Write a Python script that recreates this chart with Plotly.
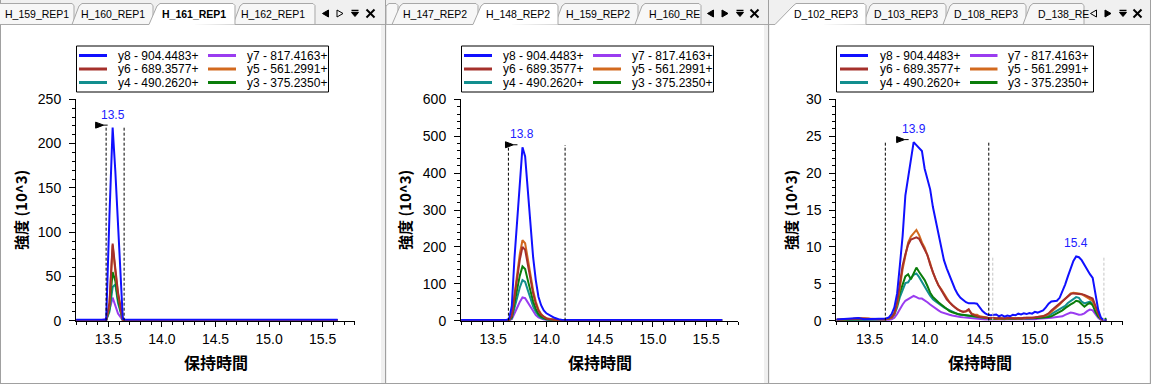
import plotly.graph_objects as go

W, H = 1151, 384
FONT = "Liberation Sans, Arial, sans-serif"
TABFONT = "Liberation Sans, Arial, sans-serif"
CJK = "Noto Sans CJK JP, Noto Sans CJK SC, sans-serif"

# ---------------- data ----------------
series_keys = ["y8", "y7", "y6", "y5", "y4", "y3"]
series_labels = ["y8 - 904.4483+", "y7 - 817.4163+", "y6 - 689.3577+",
                 "y5 - 561.2991+", "y4 - 490.2620+", "y3 - 375.2350+"]
series_colors = ["#1010ff", "#9a3cf0", "#a5302b", "#d2691e", "#128e8e", "#0a7d0a"]
draw_order = ["y7", "y4", "y3", "y5", "y6", "y8"]

# Panel 1 : H_161_REP1
p1_time = [13.2, 13.43, 13.48, 13.51, 13.54, 13.565, 13.59, 13.635, 13.66, 15.64]
p1_y8 = [1.0, 1.0, 1.2, 118, 218, 169, 112, 2.0, 1.0, 1.0]
p1_y7 = [0.3, 0.6, 2.0, 12, 26, 16, 8, 0.5, 0.2, 0.2]
p1_y6 = [0.5, 0.5, 0.8, 20, 87, 59, 32, 0.8, 0.5, 0.5]
p1_y5 = [0.4, 0.4, 0.6, 17, 85, 56, 30, 0.6, 0.4, 0.4]
p1_y4 = [0.3, 0.3, 0.5, 10, 38, 41, 20, 0.5, 0.3, 0.3]
p1_y3 = [0.3, 0.3, 0.5, 14, 55, 45, 24, 0.5, 0.3, 0.3]

# Panel 2 : H_148_REP2
p2_time = [13.2, 13.6, 13.625, 13.65, 13.675, 13.7, 13.725, 13.75, 13.775, 13.8,
           13.825, 13.85, 13.875, 13.9, 13.925, 13.95, 13.975, 14.0, 14.025, 14.05,
           14.075, 14.1, 14.125, 14.15, 15.65]
p2_y8 = [2, 2, 2, 5, 40, 170, 280, 390, 470, 445, 352, 262, 172, 110, 65, 42, 28, 20, 15, 12, 8, 5, 3, 2, 2]
p2_y7 = [0, 0, 0, 1, 4, 18, 35, 51, 63, 61, 49, 36, 24, 15, 9, 5, 3, 2, 1, 1, 0, 0, 0, 0, 0]
p2_y6 = [1, 1, 1, 2, 13, 62, 112, 165, 200, 192, 153, 113, 74, 46, 27, 16, 10, 6, 4, 3, 2, 1, 1, 1, 1]
p2_y5 = [1, 1, 1, 2, 15, 70, 125, 180, 218, 210, 168, 125, 82, 52, 30, 18, 11, 7, 5, 3, 2, 1, 1, 1, 1]
p2_y4 = [1, 1, 1, 1, 7, 35, 62, 90, 110, 105, 83, 60, 39, 24, 14, 8, 5, 3, 2, 1, 1, 1, 1, 0, 0]
p2_y3 = [1, 1, 1, 1, 10, 48, 85, 122, 147, 140, 110, 80, 52, 32, 18, 11, 7, 4, 3, 2, 1, 1, 1, 1, 1]

# Panel 3 : D_102_REP3
p3_time = [13.2, 13.25, 13.3, 13.35, 13.4, 13.45, 13.5, 13.55, 13.575,
           13.6, 13.625, 13.65, 13.675, 13.7, 13.725, 13.75, 13.775, 13.8, 13.825,
           13.85, 13.875, 13.9, 13.925, 13.95, 13.975, 14.0, 14.025, 14.05, 14.075,
           14.1, 14.125, 14.15, 14.175, 14.2, 14.225, 14.25, 14.275, 14.3, 14.325,
           14.35, 14.375, 14.4, 14.425, 14.45, 14.475, 14.5, 14.525, 14.55, 14.575,
           14.6, 14.625, 14.65, 14.675, 14.7, 14.725, 14.75, 14.775, 14.8, 14.825,
           14.85, 14.875, 14.9, 14.925, 14.95, 14.975, 15.0, 15.025, 15.05, 15.075,
           15.1, 15.125, 15.15, 15.175, 15.2, 15.225, 15.25, 15.275, 15.3, 15.325,
           15.35, 15.375, 15.4, 15.425, 15.45, 15.475, 15.5, 15.525, 15.55, 15.575,
           15.6, 15.625, 15.65]
p3_y8 = [0.15, 0.2, 0.15, 0.25, 0.35, 0.2, 0.2, 0.25, 0.2,
         0.2, 0.25, 0.3, 0.45, 0.9, 1.8, 3.7, 7.5, 11.5, 17.0,
         19.6, 21.5, 24.2, 23.8, 23.4, 23.0, 20.6, 19.2, 17.8, 15.4,
         13.5, 11.8, 9.8, 8.2, 7.1, 6.1, 5.1, 4.3, 3.6, 3.1,
         2.8, 2.5, 2.35, 2.4, 2.35, 2.3, 1.8, 1.3, 1.0, 0.8,
         0.75, 0.8, 0.85, 0.6, 0.75, 0.55, 0.7, 0.6, 0.8, 0.75,
         0.95, 0.85, 1.0, 0.9, 1.05, 0.95, 1.2, 1.1, 1.2, 1.4,
         1.8, 2.3, 2.6, 2.7, 2.7, 3.1, 3.9, 4.9, 6.0, 7.2,
         8.1, 8.7, 8.6, 8.2, 7.5, 6.8, 6.3, 5.8, 3.8, 1.5,
         0.4, 0.1, 0.05]
p3_y7 = [0.05, 0.1, 0.05, 0.1, 0.1, 0.05, 0.05, 0.05, 0.05,
         0.05, 0.05, 0.1, 0.1, 0.2, 0.4, 0.9, 1.6, 2.2, 2.7,
         2.9, 3.1, 3.35, 3.2, 3.0, 3.0, 2.8, 2.5, 2.2, 1.9,
         1.7, 1.4, 1.15, 1.0, 0.9, 0.8, 0.7, 0.6, 0.55, 0.5,
         0.45, 0.4, 0.35, 0.3, 0.3, 0.25, 0.2, 0.2, 0.15, 0.15,
         0.15, 0.1, 0.15, 0.1, 0.15, 0.1, 0.15, 0.1, 0.15, 0.15,
         0.1, 0.15, 0.15, 0.2, 0.15, 0.2, 0.2, 0.25, 0.25, 0.3,
         0.3, 0.35, 0.4, 0.45, 0.5, 0.55, 0.6, 0.8, 1.0, 1.1,
         1.05, 0.9, 0.8, 0.85, 1.0, 1.3, 1.5, 1.4, 0.9, 0.4,
         0.1, 0.0, 0.0]
p3_y6 = [0.15, 0.2, 0.15, 0.3, 0.35, 0.3, 0.25, 0.2, 0.15,
         0.15, 0.2, 0.25, 0.3, 0.45, 1.0, 2.5, 5.0, 7.5, 9.0,
         10.3, 11.0, 11.2, 11.3, 11.1, 10.4, 9.6, 8.9, 7.6, 6.5,
         5.6, 4.8, 4.1, 3.5, 2.9, 2.5, 2.1, 1.8, 1.5, 1.35,
         1.2, 1.3, 1.55, 0.9, 0.7, 0.6, 0.5, 0.45, 0.4, 0.4,
         0.35, 0.4, 0.3, 0.35, 0.3, 0.3, 0.35, 0.3, 0.35, 0.3,
         0.35, 0.3, 0.4, 0.35, 0.4, 0.4, 0.45, 0.45, 0.5, 0.6,
         0.8, 1.0, 1.4, 1.7, 2.0, 2.3, 2.6, 2.9, 3.3, 3.6,
         3.7, 3.7, 3.65, 3.6, 3.5, 3.3, 3.2, 3.0, 2.0, 1.0,
         0.3, 0.05, 0.0]
p3_y5 = [0.1, 0.15, 0.1, 0.25, 0.35, 0.3, 0.2, 0.15, 0.1,
         0.1, 0.15, 0.2, 0.25, 0.4, 0.9, 2.2, 4.5, 7.0, 8.8,
         10.6, 11.4, 11.9, 12.3, 11.6, 10.6, 9.9, 8.9, 7.8, 6.5,
         5.6, 4.8, 4.3, 3.7, 3.0, 2.5, 2.1, 1.8, 1.5, 1.3,
         1.2, 1.25, 1.45, 1.0, 0.85, 0.8, 0.6, 0.5, 0.45, 0.4,
         0.35, 0.3, 0.35, 0.25, 0.3, 0.25, 0.3, 0.35, 0.3, 0.35,
         0.3, 0.35, 0.3, 0.4, 0.35, 0.4, 0.45, 0.5, 0.55, 0.6,
         0.7, 0.9, 1.2, 1.5, 1.9, 2.2, 2.6, 3.0, 3.4, 3.7,
         3.8, 3.8, 3.7, 3.6, 3.4, 3.2, 2.9, 2.7, 1.8, 0.9,
         0.2, 0.05, 0.0]
p3_y4 = [0.1, 0.1, 0.1, 0.15, 0.2, 0.15, 0.1, 0.1, 0.1,
         0.1, 0.15, 0.2, 0.25, 0.4, 0.8, 1.8, 3.2, 4.3, 5.1,
         5.2, 5.8, 6.2, 6.4, 5.9, 5.2, 4.6, 4.0, 3.4, 2.9,
         2.6, 2.3, 2.1, 1.8, 1.6, 1.4, 1.2, 1.0, 0.9, 0.8,
         0.75, 0.7, 0.65, 0.55, 0.5, 0.45, 0.4, 0.35, 0.3, 0.3,
         0.25, 0.3, 0.25, 0.3, 0.25, 0.2, 0.25, 0.3, 0.25, 0.3,
         0.25, 0.3, 0.3, 0.35, 0.3, 0.35, 0.4, 0.4, 0.45, 0.45,
         0.5, 0.7, 0.9, 1.1, 1.3, 1.5, 1.7, 2.0, 2.4, 2.7,
         2.9, 3.2, 3.1, 2.6, 2.35, 2.5, 2.6, 2.3, 1.4, 0.6,
         0.2, 0.05, 0.0]
p3_y3 = [0.1, 0.1, 0.15, 0.2, 0.2, 0.15, 0.1, 0.1, 0.1,
         0.1, 0.15, 0.2, 0.3, 0.5, 1.0, 2.2, 3.8, 5.0, 6.0,
         6.3, 5.6, 6.4, 7.2, 6.6, 6.0, 5.5, 4.7, 3.8, 3.2,
         2.8, 2.5, 2.2, 1.9, 1.7, 1.3, 1.15, 1.0, 0.9, 0.85,
         0.8, 0.75, 0.7, 0.6, 0.55, 0.5, 0.45, 0.4, 0.35, 0.3,
         0.3, 0.25, 0.3, 0.25, 0.3, 0.25, 0.3, 0.25, 0.3, 0.3,
         0.3, 0.25, 0.3, 0.3, 0.35, 0.3, 0.35, 0.35, 0.4, 0.4,
         0.4, 0.5, 0.6, 0.8, 0.9, 1.1, 1.4, 1.7, 2.0, 2.2,
         2.4, 2.7, 2.6, 2.2, 1.9, 2.2, 2.4, 2.1, 1.2, 0.6,
         0.2, 0.1, 0.3]

# axis settings per panel
y_max = [250, 600, 30]
y_dtick = [50, 100, 5]
y_minor = [10, 20, 1]

# integration boundaries (time) and their heights
bounds = [[13.479, 13.647], [13.643, 14.175], [13.643, 14.582]]
bound_tops = [220, 476, 24.3]
bounds_extra = [14.618, 15.627]  # second peak in panel 3
bounds_extra_top = 8.7

# peak labels
peak_labels = [["13.5"], ["13.8"], ["13.9", "15.4"]]

# tabs: (label, left, right, slant, active, text_x, anchor)
tabs = [
    [("H_159_REP1", -12, 74, 7, False, 3, "left"),
     ("H_160_REP1", 72, 153, 7, False, 113, "center"),
     ("H_162_REP1", 233, 315, 7, False, 273, "center"),
     ("H_161_REP1", 149, 235, 8, True, 193.5, "center")],
    [("", 386, 398, 0, False, 0, "center"),
     ("H_147_REP2", 392, 478, 8, False, 435, "center"),
     ("H_159_REP2", 555, 638, 7, False, 598, "center"),
     ("H_160_RE", 635, 701, 7, False, 647, "left"),
     ("H_148_REP2", 473, 558, 8, True, 517.7, "center")],
    [("D_103_REP3", 863, 946, 7, False, 906, "center"),
     ("D_108_REP3", 943, 1026, 7, False, 986, "center"),
     ("D_138_RE", 1023, 1084, 7, False, 1036, "left"),
     ("D_102_REP3", 775, 866, 18, True, 826, "center")],
]
tab_bold = [True, False, False]

# ---------------- layout geometry (pixels) ----------------
panel_x = [(0, 385), (386, 768), (769, 1150)]
plot_x = [(76, 355), (461, 738.4), (836.3, 1123.2)]
plot_top, plot_bottom = 99.3, 320.7
ytitle_x = [20, 404, 790]
controls = [  # (left arrow x, filled?, right arrow x, filled?, menu x, close x)
    (325.5, True, 340, False, 355, 370.5),
    (710.5, True, 725, True, 740, 754.5),
    (1093.5, False, 1108, True, 1123, 1137.5),
]
legend_geo = [  # box left, box width, line0, line1, text, right line0, line1, text
    (76.5, 252, 2.5, 30.5, 39.5, 131.5, 159.5, 168.5),
    (461.5, 252, 2.5, 30.5, 39.5, 131.5, 159.5, 168.5),
    (836.5, 257, 3.5, 31.5, 41, 133.5, 161, 169),
]


def fx(x):
    return x / W


def fy(y):
    return 1 - y / H


def ppath(pts, close=False):
    s = "M " + " L ".join(f"{fx(x):.6f},{fy(y):.6f}" for x, y in pts)
    return s + (" Z" if close else "")


shapes = []
annotations = []


def rect(x0, y0, x1, y1, fill, lw=0, lc="black", layer="below"):
    shapes.append(dict(type="rect", xref="paper", yref="paper",
                       x0=fx(x0), x1=fx(x1), y0=fy(y1), y1=fy(y0),
                       fillcolor=fill, line=dict(width=lw, color=lc), layer=layer))


def line(x0, y0, x1, y1, color, width=1, layer="below", dash=None):
    d = dict(color=color, width=width)
    if dash:
        d["dash"] = dash
    shapes.append(dict(type="line", xref="paper", yref="paper",
                       x0=fx(x0), x1=fx(x1), y0=fy(y0), y1=fy(y1), line=d, layer=layer))


def path(pts, fill, lc, lw, close=True, layer="below"):
    shapes.append(dict(type="path", xref="paper", yref="paper", path=ppath(pts, close),
                       fillcolor=fill, line=dict(color=lc, width=lw), layer=layer))


def text(x, y, s, size, color="black", family=FONT, xanchor="center", angle=0):
    annotations.append(dict(x=fx(x), y=fy(y), xref="paper", yref="paper", text=s,
                            showarrow=False, xanchor=xanchor, yanchor="middle",
                            textangle=angle, font=dict(family=family, size=size, color=color)))


BORDER = "#a0a0a0"
TABLINE = "#a8a8a8"

# ---------------- chrome ----------------
for i, (px0, px1) in enumerate(panel_x):
    inner_r = px1 - 4 if i < 2 else px1 - 1
    rect(px0 + 1, 25, inner_r, 383, "white")
    line(px0, 24.5, px1, 24.5, TABLINE)
    line(px1 + 0.5, 0, px1 + 0.5, 384, BORDER)
line(0.5, 0, 0.5, 384, BORDER)
line(0, 383.5, W, 383.5, BORDER)

for i, tlist in enumerate(tabs):
    for (lab, x0, x1, sl, active, tx, anc) in tlist:
        pts = [(x0, 24.5), (x0 + sl, 6), (x0 + sl + 3, 3.5), (x1 - 2, 3.5), (x1, 5.5), (x1, 24.5)]
        if active:
            path(pts + [(x0, 25.5)], "white", "white", 0)
            path(pts, "rgba(0,0,0,0)", TABLINE, 1, close=False)
        else:
            path(pts, "#f7f7f7", TABLINE, 1)
        if lab:
            s = f"<b>{lab}</b>" if (active and tab_bold[i]) else lab
            text(tx, 14.5, s, 10.5, family=TABFONT, xanchor=anc)

for (lx, lfill, rx, rfill, mx, cx) in controls:
    cy = 13.5
    path([(lx + 3, cy - 3.5), (lx + 3, cy + 3.5), (lx - 3, cy)],
         "black" if lfill else "rgba(0,0,0,0)", "black", 1)
    path([(rx - 3, cy - 3.5), (rx - 3, cy + 3.5), (rx + 3, cy)],
         "black" if rfill else "rgba(0,0,0,0)", "black", 1)
    line(mx - 3.5, 10.5, mx + 3.5, 10.5, "black", 1.5)
    path([(mx - 3.5, 12.5), (mx + 3.5, 12.5), (mx, 16.5)], "black", "black", 1)
    line(cx - 4, cy - 4, cx + 4, cy + 4, "black", 2)
    line(cx - 4, cy + 4, cx + 4, cy - 4, "black", 2)

# ---------------- legends ----------------
row_y = [55.5, 69, 82.5]
for (bl, bw, l0, l1, tx, r0, r1, rtx) in legend_geo:
    rect(bl, 46, bl + bw, 92, "white", lw=1, lc="black", layer="above")
    for k in range(6):
        r, c = divmod(k, 2)
        a, b, t = (l0, l1, tx) if c == 0 else (r0, r1, rtx)
        line(bl + a, row_y[r], bl + b, row_y[r], series_colors[k], 3, layer="above")
        text(bl + t, row_y[r], series_labels[k], 12, xanchor="left")

# ---------------- figure ----------------
fig = go.Figure()
panels = [
    (p1_time, {"y8": p1_y8, "y7": p1_y7, "y6": p1_y6, "y5": p1_y5, "y4": p1_y4, "y3": p1_y3}),
    (p2_time, {"y8": p2_y8, "y7": p2_y7, "y6": p2_y6, "y5": p2_y5, "y4": p2_y4, "y3": p2_y3}),
    (p3_time, {"y8": p3_y8, "y7": p3_y7, "y6": p3_y6, "y5": p3_y5, "y4": p3_y4, "y3": p3_y3}),
]
color_of = dict(zip(series_keys, series_colors))

for i, (times, vals) in enumerate(panels):
    n = "" if i == 0 else str(i + 1)
    xa, ya = "x" + n, "y" + n
    for key in draw_order:
        fig.add_trace(go.Scatter(x=times, y=vals[key], mode="lines",
                                 line=dict(color=color_of[key], width=2),
                                 xaxis=xa, yaxis=ya, showlegend=False, hoverinfo="skip"))
    fig.layout["xaxis" + n] = dict(
        domain=[fx(plot_x[i][0]), fx(plot_x[i][1])], range=[13.198, 15.802], anchor=ya,
        automargin=False,
        showline=True, linecolor="black", linewidth=1, ticks="outside", ticklen=5,
        tickcolor="black", dtick=0.5, tick0=13.5, tickformat=".1f",
        tickfont=dict(family=FONT, size=14, color="black"), showgrid=False, zeroline=False,
        minor=dict(dtick=0.1, tick0=13.5, ticks="outside", ticklen=3, tickcolor="black", showgrid=False),
        fixedrange=True)
    fig.layout["yaxis" + n] = dict(
        domain=[fy(plot_bottom), fy(plot_top)], range=[0, y_max[i]], anchor=xa,
        automargin=False,
        showline=True, linecolor="black", linewidth=1, ticks="outside", ticklen=6,
        tickcolor="black", dtick=y_dtick[i], tick0=0, ticklabelstandoff=5,
        tickfont=dict(family=FONT, size=14, color="black"), showgrid=False, zeroline=False,
        minor=dict(dtick=y_minor[i], tick0=0, ticks="outside", ticklen=3, tickcolor="black", showgrid=False),
        fixedrange=True)

    # axis titles
    cx = (plot_x[i][0] + plot_x[i][1]) / 2
    text(cx, 361.5, "<b>保持時間</b>", 16, family=CJK)
    text(ytitle_x[i], (plot_top + plot_bottom) / 2, "<b>強度 (10^3)</b>", 15, family=CJK, angle=-90)

    # integration boundaries
    for b in bounds[i]:
        shapes.append(dict(type="line", xref=xa, yref=ya, x0=b, x1=b, y0=0, y1=bound_tops[i],
                           line=dict(color="black", width=1, dash="3px,2px"), layer="above"))
    if i == 2:
        for b in bounds_extra:
            shapes.append(dict(type="line", xref=xa, yref=ya, x0=b, x1=b, y0=0, y1=bounds_extra_top,
                               line=dict(color="#c4c4c4", width=1, dash="3px,2px"), layer="above"))

    # peak apex labels (from y8 data)
    blue = vals["y8"]
    apexes = []
    j = max(range(len(times)), key=lambda k: blue[k])
    apexes.append(j)
    if len(peak_labels[i]) > 1:
        j2 = max([k for k in range(len(times)) if times[k] > 15.0], key=lambda k: blue[k])
        apexes.append(j2)
    for lab, j in zip(peak_labels[i], apexes):
        annotations.append(dict(x=times[j], y=blue[j], xref=xa, yref=ya, text=lab, showarrow=False,
                                yshift=13, xanchor="center", yanchor="middle",
                                font=dict(family=FONT, size=12, color="#2020ff")))
    # apex flag
    j = apexes[0]
    shapes.append(dict(type="path", xref=xa, yref=ya, xsizemode="pixel", ysizemode="pixel",
                       xanchor=times[j], yanchor=blue[j], path="M -17,5.5 L -17,-0.5 L -9,2.5 Z",
                       fillcolor="black", line=dict(color="black", width=1), layer="above"))
    shapes.append(dict(type="path", xref=xa, yref=ya, xsizemode="pixel", ysizemode="pixel",
                       xanchor=times[j], yanchor=blue[j], path="M -9,2.5 L -5,2.5",
                       line=dict(color="black", width=1), layer="above"))

fig.update_layout(width=W, height=H, margin=dict(l=0, r=0, t=0, b=0, pad=0, autoexpand=False),
                  autosize=False, template="none",
                  paper_bgcolor="#f0f0f0", plot_bgcolor="rgba(0,0,0,0)",
                  shapes=shapes, annotations=annotations, showlegend=False)

fig.write_html("out.html", config={"displayModeBar": False, "responsive": False},
               post_script=("var s='margin:0;padding:0;overflow:hidden;width:1151px;height:384px;';"
                            "document.documentElement.style.cssText=s;document.body.style.cssText=s;"))
